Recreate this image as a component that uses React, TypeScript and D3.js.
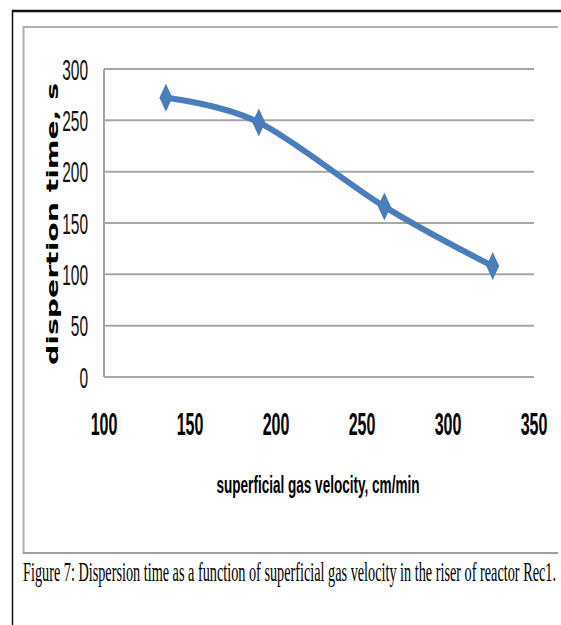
import React from "react";
import * as d3 from "d3";

const velocity = [136, 190, 263, 326];
const dispersionTime = [272, 248, 166, 108];
const xTicks = [100, 150, 200, 250, 300, 350];
const yTicks = [0, 50, 100, 150, 200, 250, 300];
const xTitle = "superficial gas velocity, cm/min";
const yTitle = "dispertion time, s";
const caption =
  "Figure 7: Dispersion time as a function of superficial gas velocity in the riser of reactor Rec1.";

export default function App() {
  const W = 561;
  const H = 625;
  const x = d3.scaleLinear().domain([100, 350]).range([104, 534]);
  const y = d3.scaleLinear().domain([0, 300]).range([377, 69]);
  const pts: [number, number][] = velocity.map((v, i) => [x(v), y(dispersionTime[i])]);
  const line = d3.line().curve(d3.curveCardinal.tension(0))(pts) || "";
  const blue = "#4A7EBB";
  const grid = "#a6a6a6";
  const sans = "'Liberation Sans', Arial, sans-serif";

  return (
    <svg
      width={W}
      height={H}
      style={{ position: "absolute", left: 0, top: 0, background: "#fff" }}
    >
      <rect x={0} y={0} width={W} height={H} fill="#fff" />
      {/* outer black frame */}
      <line x1={12} x2={W} y1={11} y2={11} stroke="#111" strokeWidth={2.5} />
      <line x1={12.5} x2={12.5} y1={10} y2={H} stroke="#111" strokeWidth={1.5} />
      {/* gray chart frame */}
      <line x1={23} x2={558} y1={27} y2={27} stroke="#b0b0b0" strokeWidth={2} />
      <line x1={23.5} x2={23.5} y1={26} y2={554} stroke="#b0b0b0" strokeWidth={2} />
      <line x1={23} x2={558} y1={553} y2={553} stroke="#a0a0a0" strokeWidth={2} />

      {/* gridlines */}
      {yTicks.map((t) => (
        <line key={"g" + t} x1={x(100)} x2={x(350)} y1={y(t)} y2={y(t)} stroke={grid} strokeWidth={2} />
      ))}
      <line x1={x(100)} x2={x(100)} y1={y(300)} y2={y(0)} stroke={grid} strokeWidth={2} />

      {/* y tick labels */}
      {yTicks.map((t) => (
        <text
          key={"yl" + t}
          transform={`translate(88,${y(t) + 10.5}) scale(1,1.9)`}
          textAnchor="end"
          fontFamily={sans}
          fontSize={15.5}
          fill="#111"
        >
          {t}
        </text>
      ))}

      {/* x tick labels */}
      {xTicks.map((t) => (
        <text
          key={"xl" + t}
          transform={`translate(${x(t)},435) scale(1,1.95)`}
          textAnchor="middle"
          fontFamily={sans}
          fontSize={16}
          fill="#000"
          fontWeight={600}
        >
          {t}
        </text>
      ))}

      {/* axis titles */}
      <text
        transform={`translate(318,493) scale(1,1.85)`}
        textAnchor="middle"
        fontFamily={sans}
        fontWeight="bold"
        fontSize={13}
        textLength={203}
        lengthAdjust="spacingAndGlyphs"
        fill="#000"
      >
        {xTitle}
      </text>
      <text
        transform={`translate(58,224) rotate(-90)`}
        textAnchor="middle"
        fontFamily="'DejaVu Sans', Verdana, sans-serif"
        fontWeight="bold"
        fontSize={15}
        textLength={282}
        lengthAdjust="spacingAndGlyphs"
        fill="#000"
      >
        {yTitle}
      </text>

      {/* series */}
      <path d={line} fill="none" stroke={blue} strokeWidth={6} strokeLinecap="round" strokeLinejoin="round" />
      {pts.map(([px, py], i) => (
        <path
          key={"m" + i}
          d={`M${px},${py - 14} L${px + 6.5},${py} L${px},${py + 14} L${px - 6.5},${py} Z`}
          fill={blue}
        />
      ))}

      {/* caption */}
      <text
        transform={`translate(23,581) scale(1,2.2)`}
        fontFamily="'Liberation Serif', 'Times New Roman', serif"
        fontSize={12.5}
        textLength={533}
        lengthAdjust="spacingAndGlyphs"
        fill="#000"
      >
        {caption}
      </text>
    </svg>
  );
}
